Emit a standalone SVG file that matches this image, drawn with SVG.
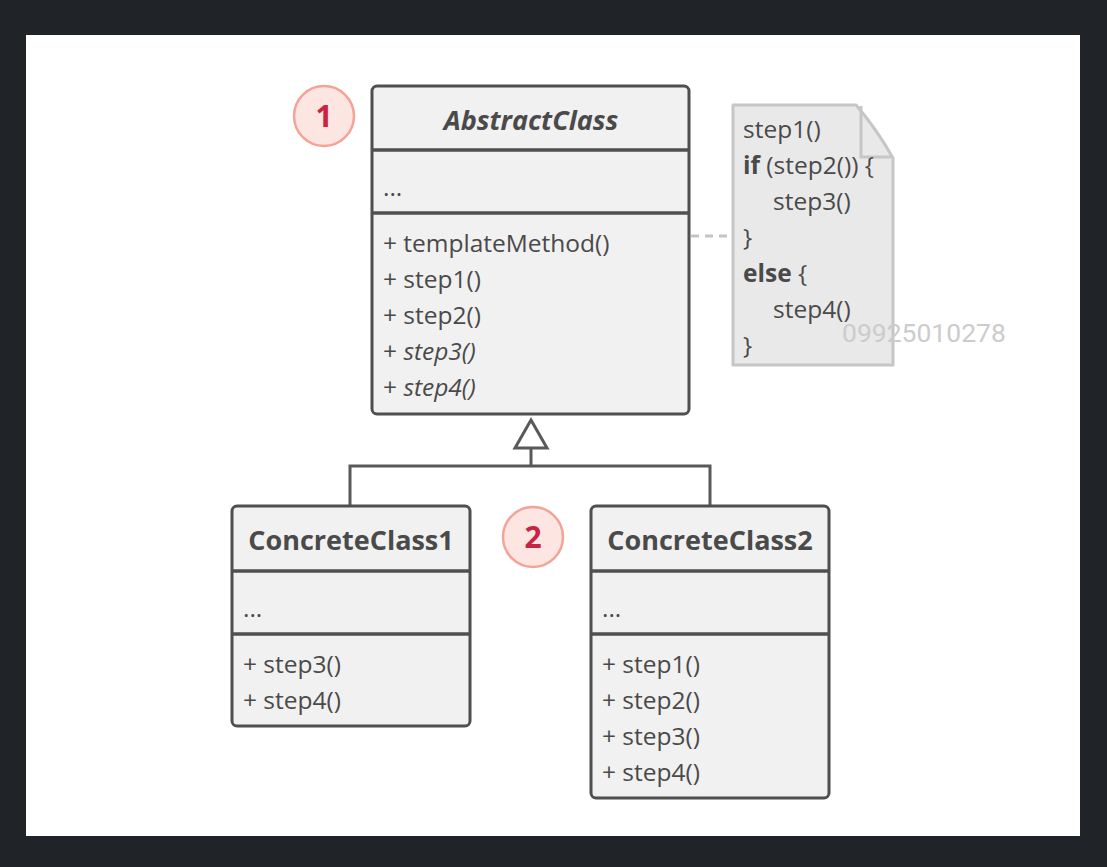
<svg xmlns="http://www.w3.org/2000/svg" width="1107" height="867" viewBox="0 0 1107 867">
<style>
.box{fill:#f1f1f1;stroke:#4f4f4f;stroke-width:3}
.sep{stroke:#4f4f4f;stroke-width:3.5}
.t{font-family:"Open Sans","Liberation Sans",sans-serif;font-size:24.5px;fill:#4a4a4a}
.h{font-family:"Open Sans","Liberation Sans",sans-serif;font-size:27px;font-weight:bold;fill:#4a4a4a;text-anchor:middle}
.i{font-style:italic}
.b{font-weight:bold}
.num{fill:#fde5e1;stroke:#f4a397;stroke-width:2.5}
.numt{font-family:"Open Sans","Liberation Sans",sans-serif;font-size:30px;font-weight:bold;fill:#c9243f;text-anchor:middle}
.edge{fill:none;stroke:#595959;stroke-width:3}
</style>
<rect x="0" y="0" width="1107" height="867" fill="#202428"/>
<rect x="26" y="35" width="1054" height="801" fill="#ffffff"/>

<g id="connectors">
  <path class="edge" d="M531 448 V466 M350 506 V466 H710 V506"/>
  <polygon points="531,420 547,448 515,448" fill="#ffffff" stroke="#595959" stroke-width="3"/>
  <line x1="691" y1="236" x2="733" y2="236" stroke="#c4c4c4" stroke-width="3" stroke-dasharray="8 6"/>
</g>

<g id="badge1">
  <circle class="num" cx="324" cy="116" r="30"/>
  <text class="numt" x="324" y="127">1</text>
</g>
<g id="badge2">
  <circle class="num" cx="533" cy="537" r="30"/>
  <text class="numt" x="533" y="548">2</text>
</g>

<g id="AbstractClass">
  <rect class="box" x="372" y="86" width="317" height="328" rx="5"/>
  <line class="sep" x1="372" y1="150" x2="689" y2="150"/>
  <line class="sep" x1="372" y1="213" x2="689" y2="213"/>
  <text class="h i" x="531" y="130">AbstractClass</text>
  <text class="t" x="383" y="196">...</text>
  <text class="t" x="383" y="252">+ templateMethod()</text>
  <text class="t" x="383" y="288">+ step1()</text>
  <text class="t" x="383" y="324">+ step2()</text>
  <text class="t" x="383" y="360">+ <tspan class="i">step3()</tspan></text>
  <text class="t" x="383" y="396">+ <tspan class="i">step4()</tspan></text>
</g>

<g id="note">
  <path d="M733 105 H856 Q876 128 893 158 V365 H733 Z" fill="#e9e9e9" stroke="#c6c6c6" stroke-width="3" stroke-linejoin="round"/>
  <path d="M861 106 V157 H892" fill="none" stroke="#c6c6c6" stroke-width="3"/>
  <text class="t" x="743" y="138">step1()</text>
  <text class="t" x="743" y="174"><tspan class="b">if</tspan> (step2()) {</text>
  <text class="t" x="773" y="210">step3()</text>
  <text class="t" x="743" y="246">}</text>
  <text class="t" x="743" y="282"><tspan class="b">else</tspan> {</text>
  <text class="t" x="773" y="318">step4()</text>
  <text class="t" x="743" y="354">}</text>
</g>

<g id="ConcreteClass1">
  <rect class="box" x="232" y="506" width="238" height="220" rx="5"/>
  <line class="sep" x1="232" y1="571" x2="470" y2="571"/>
  <line class="sep" x1="232" y1="634" x2="470" y2="634"/>
  <text class="h" x="351" y="550">ConcreteClass1</text>
  <text class="t" x="243" y="617">...</text>
  <text class="t" x="243" y="673">+ step3()</text>
  <text class="t" x="243" y="709">+ step4()</text>
</g>

<g id="ConcreteClass2">
  <rect class="box" x="591" y="506" width="238" height="292" rx="5"/>
  <line class="sep" x1="591" y1="571" x2="829" y2="571"/>
  <line class="sep" x1="591" y1="634" x2="829" y2="634"/>
  <text class="h" x="710" y="550">ConcreteClass2</text>
  <text class="t" x="602" y="617">...</text>
  <text class="t" x="602" y="673">+ step1()</text>
  <text class="t" x="602" y="709">+ step2()</text>
  <text class="t" x="602" y="745">+ step3()</text>
  <text class="t" x="602" y="781">+ step4()</text>
</g>

<text x="842" y="342" font-family="Roboto,'Open Sans',sans-serif" font-size="26.5" fill="#cccccc">09925010278</text>
</svg>
